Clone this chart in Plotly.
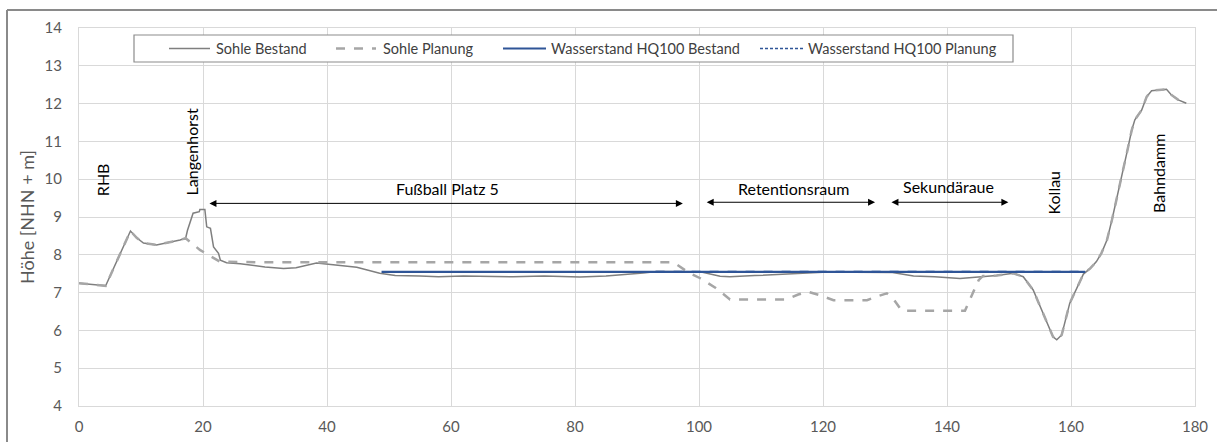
import plotly.graph_objects as go

# Längsschnitt: Stationierung [m] und Höhen [NHN + m]
x_bestand = [0, 4.3, 8.3, 9.3, 10.4, 12.5, 16.3, 17.2, 17.5, 18.4, 19.4, 19.5, 20.3, 20.6,
             21.2, 21.7, 22.5, 22.8, 23.8, 26, 30, 33, 35, 38.3, 41, 44.8, 48.5, 51, 55,
             58, 62, 66, 70, 75, 80.8, 85, 88, 91, 93.2, 96.9, 100.2, 103.4, 105, 109,
             113, 117, 120, 125, 131.2, 134.6, 138, 142.1, 145, 148, 150.7, 152.3, 153.9,
             155.5, 157.1, 157.7, 158.5, 159.8, 162, 163.1, 164.1, 164.9, 165.8, 166.6,
             167.4, 168.2, 169, 169.8, 170.3, 171.4, 172.2, 173, 175.4, 176.2, 177.3, 178.6]
y_bestand = [7.25, 7.18, 8.63, 8.45, 8.31, 8.26, 8.39, 8.44, 8.65, 9.1, 9.14, 9.2, 9.2, 8.74,
             8.7, 8.21, 8.04, 7.86, 7.79, 7.76, 7.68, 7.64, 7.66, 7.78, 7.74, 7.67, 7.51,
             7.45, 7.44, 7.42, 7.44, 7.43, 7.42, 7.44, 7.41, 7.44, 7.47, 7.52, 7.56, 7.56,
             7.55, 7.43, 7.42, 7.45, 7.48, 7.51, 7.54, 7.54, 7.53, 7.44, 7.42, 7.37, 7.4,
             7.45, 7.51, 7.42, 7.07, 6.45, 5.83, 5.75, 5.88, 6.72, 7.49, 7.64, 7.82, 8.04,
             8.39, 8.92, 9.54, 10.07, 10.69, 11.3, 11.57, 11.83, 12.18, 12.34, 12.38, 12.23,
             12.1, 12.01]

x_planung = [0, 4.3, 8.3, 9.3, 10.4, 12.5, 16.3, 17.2, 19.5, 22.7, 30, 40, 50, 60, 70, 80,
             90, 95.9, 98.5, 100.2, 102.7, 105, 114.1, 116, 117.6, 119.5, 121.7, 127.1,
             128.7, 130.3, 131.5, 132.7, 142.9, 145.1, 145.8, 148, 150.7, 152.3, 153.9,
             155.5, 157.1, 157.7, 158.5, 159.8, 162, 163.1, 164.1, 164.9, 165.8, 166.6,
             167.4, 168.2, 169, 169.8, 170.3, 171.4, 172.2, 173, 175.4, 176.2, 177.3, 178.6]
y_planung = [7.25, 7.18, 8.63, 8.45, 8.31, 8.26, 8.39, 8.44, 8.13, 7.82, 7.8, 7.8, 7.8, 7.8,
             7.8, 7.8, 7.8, 7.8, 7.51, 7.38, 7.12, 6.82, 6.82, 6.95, 7.02, 6.93, 6.8, 6.8,
             6.9, 6.98, 6.8, 6.52, 6.52, 7.33, 7.44, 7.45, 7.51, 7.42, 7.07, 6.45, 5.83,
             5.75, 5.88, 6.72, 7.49, 7.64, 7.82, 8.04, 8.39, 8.92, 9.54, 10.07, 10.69, 11.3,
             11.57, 11.83, 12.18, 12.34, 12.38, 12.23, 12.1, 12.01]

x_ws_bestand = [48.8, 162.3]
y_ws_bestand = [7.55, 7.55]
x_ws_planung = [93, 162.3]
y_ws_planung = [7.56, 7.56]

# Bereichsbeschriftungen (senkrecht)
vert_labels = ["RHB", "Langenhorst", "Kollau", "Bahndamm"]
vert_x = [3.9, 18.2, 157.1, 174.1]
vert_y = [9.98, 10.73, 9.65, 10.15]

# Bereiche mit Doppelpfeil
span_labels = ["Fußball Platz 5", "Retentionsraum", "Sekundäraue"]
span_start = [20.8, 101.0, 130.8]
span_end = [97.4, 128.4, 149.9]
span_y = [9.36, 9.39, 9.39]
span_text_x = [59.5, 115.3, 140.2]
span_text_y = [9.75, 9.75, 9.8]

series_names = ["Sohle Bestand", "Sohle Planung", "Wasserstand HQ100 Bestand",
                "Wasserstand HQ100 Planung"]
series_colors = ["#7f7f7f", "#a6a6a6", "#2f5597", "#2f5597"]
series_widths = [1.5, 2.5, 2.2, 1.6]
series_dash = ["solid", "dash", "solid", "dash"]

FONT = "Lato, 'Open Sans', sans-serif"

fig = go.Figure()
data = [(x_bestand, y_bestand), (x_planung, y_planung),
        (x_ws_bestand, y_ws_bestand), (x_ws_planung, y_ws_planung)]
for (xs, ys), name, col, w, d in zip(data, series_names, series_colors, series_widths, series_dash):
    fig.add_trace(go.Scatter(x=xs, y=ys, mode="lines", name=name,
                             line=dict(color=col, width=w, dash=d), showlegend=False))

W, H = 1217, 442
L, R, T, B = 79, 22, 28, 36
PW, PH = W - L - R, H - T - B


def px_x(px):
    return (px - L) / PW


def px_y(py):
    return (H - B - py) / PH


annotations = []
for txt, xv, yv in zip(vert_labels, vert_x, vert_y):
    annotations.append(dict(x=xv, y=yv, xref="x", yref="y", text=txt, textangle=-90,
                            showarrow=False, font=dict(family=FONT, size=16, color="#000000")))
for txt, tx, ty in zip(span_labels, span_text_x, span_text_y):
    annotations.append(dict(x=tx, y=ty, xref="x", yref="y", text=txt, showarrow=False,
                            font=dict(family=FONT, size=16, color="#000000")))
for xs, xe, yv in zip(span_start, span_end, span_y):
    annotations.append(dict(x=xe, y=yv, ax=xs, ay=yv, xref="x", yref="y", axref="x",
                            ayref="y", text="", showarrow=True, arrowhead=2,
                            arrowside="end+start", arrowsize=1.4, arrowwidth=1,
                            arrowcolor="#000000"))

shapes = []
# Rahmen des Diagrammbereichs
shapes.append(dict(type="line", xref="paper", yref="paper", x0=px_x(7), x1=px_x(7),
                   y0=px_y(10), y1=px_y(H + 5), line=dict(color="#8a8a8a", width=2)))
shapes.append(dict(type="line", xref="paper", yref="paper", x0=px_x(7), x1=px_x(W + 5),
                   y0=px_y(10), y1=px_y(10), line=dict(color="#8a8a8a", width=2)))

# Legende
shapes.append(dict(type="rect", xref="paper", yref="paper", x0=px_x(134), x1=px_x(1013),
                   y0=px_y(62), y1=px_y(35), fillcolor="#ffffff",
                   line=dict(color="#8c8c8c", width=1.2), layer="above"))
leg_line_x0 = [169, 336, 503, 760]
leg_line_x1 = [210, 376, 546, 804]
leg_text_x = [214, 381, 549, 806]
leg_y = 48.5
for i in range(4):
    shapes.append(dict(type="line", xref="paper", yref="paper", x0=px_x(leg_line_x0[i]),
                       x1=px_x(leg_line_x1[i]), y0=px_y(leg_y), y1=px_y(leg_y),
                       line=dict(color=series_colors[i], width=series_widths[i],
                                 dash=series_dash[i] if i != 3 else "3px,2px"),
                       layer="above"))
    annotations.append(dict(x=px_x(leg_text_x[i]), y=px_y(leg_y), xref="paper", yref="paper",
                            text=series_names[i], showarrow=False, xanchor="left",
                            yanchor="middle",
                            font=dict(family=FONT, size=14.5, color="#404040")))

grid = "#d9d9d9"
fig.update_layout(
    width=W, height=H,
    margin=dict(l=L, r=R, t=T, b=B, pad=0),
    paper_bgcolor="#ffffff", plot_bgcolor="#ffffff",
    font=dict(family=FONT, color="#595959"),
    annotations=annotations, shapes=shapes,
    xaxis=dict(range=[0, 180], dtick=20, tick0=0, showgrid=True, gridcolor=grid,
               gridwidth=1, zeroline=False, showline=True, linecolor=grid, mirror=True,
               ticks="outside", ticklen=7, tickcolor="rgba(0,0,0,0)", automargin=False,
               tickfont=dict(family=FONT, size=15, color="#595959")),
    yaxis=dict(range=[4, 14], dtick=1, tick0=4, showgrid=True, gridcolor=grid,
               gridwidth=1, zeroline=False, showline=True, linecolor=grid, mirror=True,
               ticks="outside", ticklen=13, tickcolor="rgba(0,0,0,0)", automargin=False,
               tickfont=dict(family=FONT, size=15, color="#595959"),
               title=dict(text="Höhe [NHN + m]", standoff=5,
                          font=dict(family=FONT, size=18, color="#595959"))),
)

fig.write_html("out.html")
